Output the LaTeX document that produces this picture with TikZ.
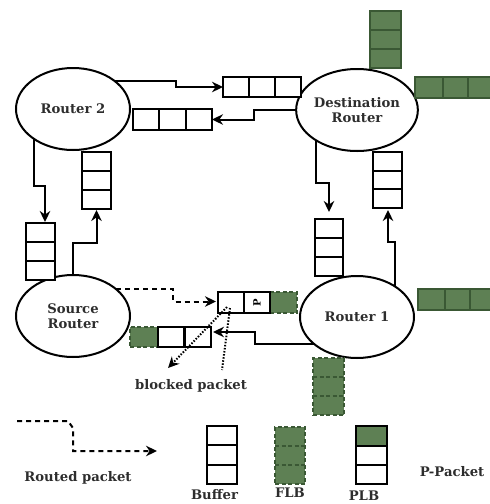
\documentclass[tikz,border=0pt]{standalone}
\usepackage{fontspec}
\setmainfont{DejaVu Serif}
\usetikzlibrary{shapes.geometric,arrows.meta,calc}
\definecolor{gfill}{RGB}{94,128,84}
\definecolor{gline}{RGB}{58,88,52}
\definecolor{txt}{RGB}{45,45,45}
\begin{document}
\begin{tikzpicture}[x=1pt,y=-1pt,
  router/.style={ellipse,draw,line width=2pt,minimum width=114pt,minimum height=82pt,inner sep=0pt,outer sep=0pt,font=\bfseries\fontsize{13.2}{15}\selectfont,text=txt,align=center},
  buf/.style={draw,line width=2.2pt,inner sep=0pt,outer sep=0pt,fill=white},
  gbuf/.style={draw=gline,line width=1.7pt,fill=gfill,inner sep=0pt,outer sep=0pt},
  fbuf/.style={gbuf,dash pattern=on 4pt off 2.5pt},
  cell/.style={line width=2.2pt},
  gcell/.style={line width=1.7pt,draw=gline},
  fcell/.style={gcell,dash pattern=on 4pt off 2.5pt},
  conn/.style={line width=2pt,-{Stealth[length=11pt,width=10.5pt]}},
  dconn/.style={conn,dash pattern=on 5pt off 4pt},
  dotconn/.style={line width=2pt,dash pattern=on 1.5pt off 1.6pt},
  lbl/.style={font=\bfseries\fontsize{13.2}{15}\selectfont,text=txt,inner sep=0pt}
]
\useasboundingbox (0,0) rectangle (490,504);

% routers
\node[router] (r2) at (73,109) {Router 2};
\node[router] (dst) at (357,110) {Destination\\Router};
\node[router] (src) at (73,316) {Source\\Router};
\node[router] (r1) at (357,317) {Router 1};

% green peripheral buffers
\node[gbuf,minimum width=31pt,minimum height=57pt] (g1) at (385.5,39.5) {};
\draw[gcell] (370,30)--(401,30) (370,49)--(401,49);
\node[gbuf,minimum width=78pt,minimum height=21pt] (g2) at (454,87.5) {};
\draw[gcell] (443,77)--(443,98) (468,77)--(468,98);
\node[gbuf,minimum width=77pt,minimum height=21pt] (g3) at (456.5,299.5) {};
\draw[gcell] (445,289)--(445,310) (470,289)--(470,310);
\node[fbuf,minimum width=31pt,minimum height=57pt] (g4) at (328.5,386.5) {};
\draw[fcell] (313,377)--(344,377) (313,396)--(344,396);

% buffers
\node[buf,minimum width=78pt,minimum height=20pt] (hb1) at (262,87) {};
\draw[cell] (249,77)--(249,97) (275,77)--(275,97);
\node[buf,minimum width=79pt,minimum height=21pt] (hb2) at (172.5,119.5) {};
\draw[cell] (159,109)--(159,130) (186,109)--(186,130);
\node[buf,minimum width=29pt,minimum height=57pt] (vb1) at (40.5,251.5) {};
\draw[cell] (26,242)--(55,242) (26,261)--(55,261);
\node[buf,minimum width=29pt,minimum height=57pt] (vb2) at (96.5,180.5) {};
\draw[cell] (82,171)--(111,171) (82,190)--(111,190);
\node[buf,minimum width=28pt,minimum height=57pt] (vb3) at (329,247.5) {};
\draw[cell] (315,238)--(343,238) (315,257)--(343,257);
\node[buf,minimum width=29pt,minimum height=56pt] (vb4) at (387.5,180) {};
\draw[cell] (373,171)--(402,171) (373,189)--(402,189);

% buffer toward Router 1 with P-packet
\node[fbuf,minimum width=27pt,minimum height=21pt] (pbg) at (283.5,302.5) {};
\node[buf,minimum width=52pt,minimum height=21pt] (pb) at (244,302.5) {};
\draw[cell] (244,292)--(244,313);
\node[inner sep=0pt,rotate=90,font=\bfseries\fontsize{10}{10}\selectfont] (pp) at (257,302.5) {P};

% buffer toward Source
\node[fbuf,minimum width=28pt,minimum height=20pt] (lbg) at (144,337) {};
\node[buf,minimum width=53pt,minimum height=20pt] (lb) at (184.5,337) {};
\draw[cell] (184.5,327)--(184.5,347);

% connectors
\draw[conn] (r2.34) -- ++(61,0) |- (hb1.west);
\draw[conn] (dst.west) -- ++(-42,0) |- (hb2.east);
\draw[conn] (r2.218) -- ++(0,47) -| ($(vb1.north)+(4.5,-1)$);
\draw[conn] (src.north) -- ++(0,-32) -| ($(vb2.south)+(0,1)$);
\draw[conn] (dst.217) -- ++(0,42) -| ($(vb3.north)+(0,-7)$);
\draw[conn] (r1.39) -- ++(0,-44) -| ($(vb4.south)+(0.5,2)$);
\draw[dconn] (src.32) -- ++(57,0) |- ($(pb.west)+(-2,-1)$);
\draw[conn] (r1.213) -- ++(-60,0) |- ($(lb.east)+(2,-5)$);

% blocked packet
\coordinate (bs1) at (227,307);
\coordinate (be1) at (168,368);
\coordinate (bs2) at (230,308);
\coordinate (be2) at (222,370);
\draw[dotconn,-{Stealth[length=11pt,width=10.5pt]}] (bs1) -- (be1);
\draw[dotconn] (bs2) -- (be2);
\node[lbl] (tb) at (191,386) {blocked packet};

% legend
\coordinate (lg1) at (17,421);
\coordinate (lg2) at (157,451);
\draw[dconn] (lg1) -- ++(51,0) -- ++(5,7) |- (lg2);
\node[lbl] (trp) at (78,478) {Routed packet};

\node[buf,minimum width=30pt,minimum height=58pt] (lbuf) at (222,455) {};
\draw[cell] (207,445.3)--(237,445.3) (207,464.7)--(237,464.7);
\node[lbl] (tbuf) at (214.5,495) {Buffer};

\node[fbuf,minimum width=30pt,minimum height=57pt] (lflb) at (290,455.5) {};
\draw[fcell] (275,446)--(305,446) (275,465)--(305,465);
\node[lbl] (tflb) at (290,493) {FLB};

\node[buf,minimum width=31pt,minimum height=58pt] (lplb) at (371.5,455) {};
\fill[gfill] (356,426) rectangle (387,446);
\draw[cell] (356,446)--(387,446) (356,465)--(387,465);
\draw[cell] (lplb.north west) rectangle (lplb.south east);
\node[lbl] (tplb) at (364,496) {PLB};

\node[lbl] (tpp) at (452,472) {P-Packet};
\end{tikzpicture}
\end{document}
